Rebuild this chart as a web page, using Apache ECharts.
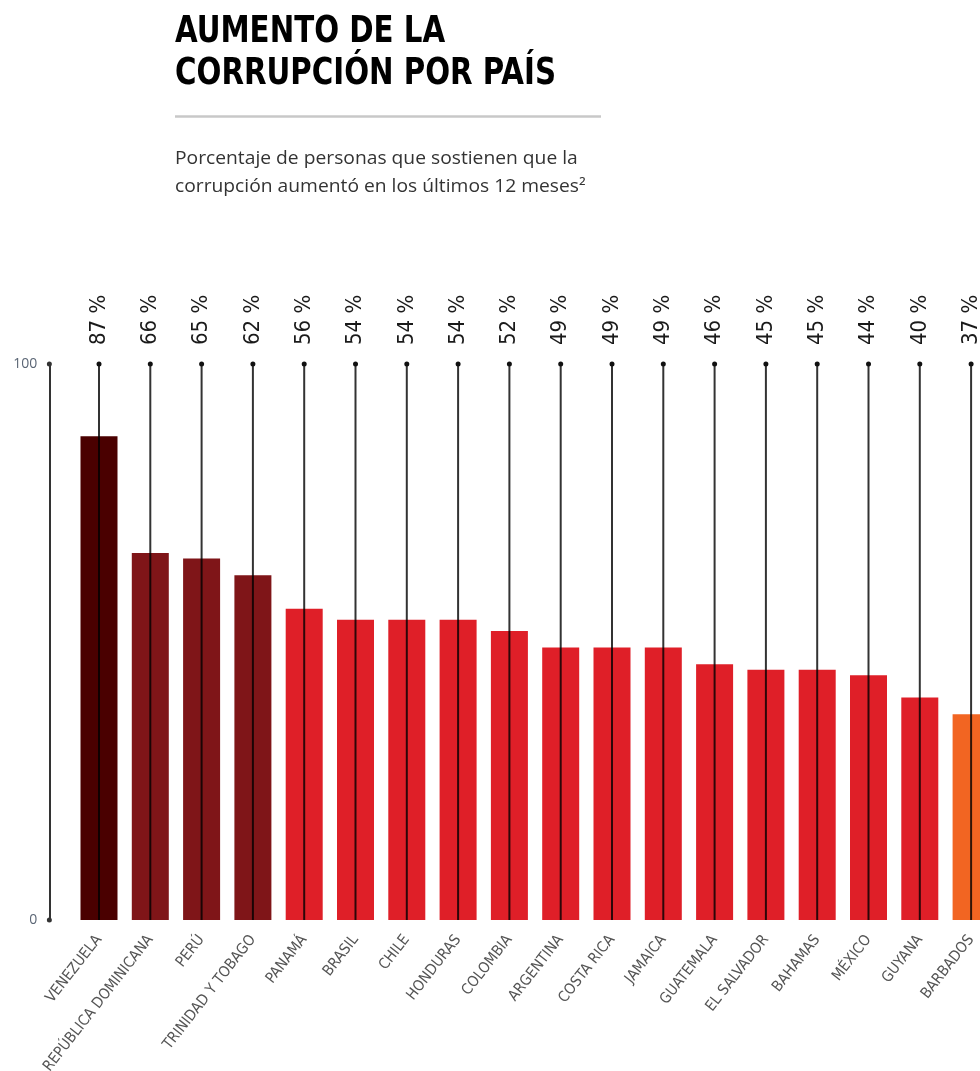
<!DOCTYPE html>
<html>
<head>
<meta charset="utf-8">
<script src="https://cdn.jsdelivr.net/npm/echarts@6/dist/echarts.min.js"></script>
<style>
  html, body { margin: 0; padding: 0; overflow: hidden; background: #fff; }
  #chart { width: 1000px; height: 1071px; }
</style>
</head>
<body>
<div id="chart"></div>
<script>
// países y porcentajes
const countries = [
  'VENEZUELA', 'REPÚBLICA DOMINICANA', 'PERÚ', 'TRINIDAD Y TOBAGO', 'PANAMÁ',
  'BRASIL', 'CHILE', 'HONDURAS', 'COLOMBIA', 'ARGENTINA', 'COSTA RICA',
  'JAMAICA', 'GUATEMALA', 'EL SALVADOR', 'BAHAMAS', 'MÉXICO', 'GUYANA', 'BARBADOS'
];
const percentages = [87, 66, 65, 62, 56, 54, 54, 54, 52, 49, 49, 49, 46, 45, 45, 44, 40, 37];
const yTicks = [0, 100];

const narrow = '"DejaVu Sans Condensed", "DejaVu Sans", sans-serif';

// color según el rango del valor
function barColor(v) {
  if (v >= 80) return '#4a0000';
  if (v >= 60) return '#7f1518';
  if (v >= 40) return '#df1f28';
  return '#f26522';
}

const chart = echarts.init(document.getElementById('chart'));

const option = {
  animation: false,
  graphic: [
    {
      type: 'text',
      x: 175,
      y: 11,
      scaleX: 0.88,
      style: {
        text: 'AUMENTO DE LA\nCORRUPCIÓN POR PAÍS',
        fontFamily: narrow,
        fontWeight: 'bold',
        fontSize: 37,
        lineHeight: 42,
        fill: '#000'
      }
    },
    {
      type: 'line',
      shape: { x1: 175, y1: 116.5, x2: 601, y2: 116.5 },
      style: { stroke: '#c8c8c8', lineWidth: 2.5 }
    },
    {
      type: 'text',
      x: 175,
      y: 145,
      scaleX: 1.1,
      style: {
        text: 'Porcentaje de personas que sostienen que la\ncorrupción aumentó en los últimos 12 meses²',
        fontFamily: 'Open Sans',
        fontSize: 17.5,
        lineHeight: 28,
        fill: '#333'
      }
    }
  ],
  grid: {
    left: 73.35,
    top: 364,
    width: 51.3 * countries.length,
    bottom: 151,
    outerBoundsMode: 'none'
  },
  xAxis: {
    type: 'category',
    data: countries,
    axisLine: { show: false },
    axisTick: { show: false },
    axisLabel: {
      interval: 0,
      rotate: 52,
      margin: 17,
      fontFamily: narrow,
      fontSize: 15,
      color: '#555'
    }
  },
  yAxis: {
    type: 'value',
    min: yTicks[0],
    max: yTicks[yTicks.length - 1],
    interval: 100,
    offset: 24,
    axisLine: {
      show: true,
      symbol: ['circle', 'circle'],
      symbolSize: [5, 5],
      lineStyle: { color: '#333', width: 2 }
    },
    axisTick: { show: false },
    splitLine: { show: false },
    axisLabel: {
      margin: 12,
      fontFamily: 'Open Sans',
      fontSize: 14,
      color: '#5b6675'
    }
  },
  series: [
    {
      type: 'bar',
      barWidth: 37,
      data: percentages.map(v => ({ value: v, itemStyle: { color: barColor(v) } }))
    },
    {
      // líneas verticales con punto y etiqueta de porcentaje
      type: 'custom',
      z: 5,
      clip: false,
      data: percentages.map((v, i) => [i, v]),
      encode: { x: 0, y: 1 },
      renderItem: function (params, api) {
        const i = api.value(0);
        const top = api.coord([i, 100]);
        const base = api.coord([i, 0]);
        return {
          type: 'group',
          children: [
            {
              type: 'line',
              shape: { x1: top[0], y1: top[1], x2: base[0], y2: base[1] },
              style: { stroke: 'rgba(0,0,0,0.8)', lineWidth: 2 }
            },
            {
              type: 'circle',
              shape: { cx: top[0], cy: top[1], r: 2.5 },
              style: { fill: '#111' }
            },
            {
              type: 'text',
              x: top[0],
              y: top[1] - 19,
              rotation: Math.PI / 2,
              style: {
                text: api.value(1) + ' %',
                fontFamily: narrow,
                fontSize: 22,
                fill: '#1a1a1a',
                textAlign: 'left',
                textVerticalAlign: 'middle'
              }
            }
          ]
        };
      }
    }
  ]
};

chart.setOption(option);
</script>
</body>
</html>
